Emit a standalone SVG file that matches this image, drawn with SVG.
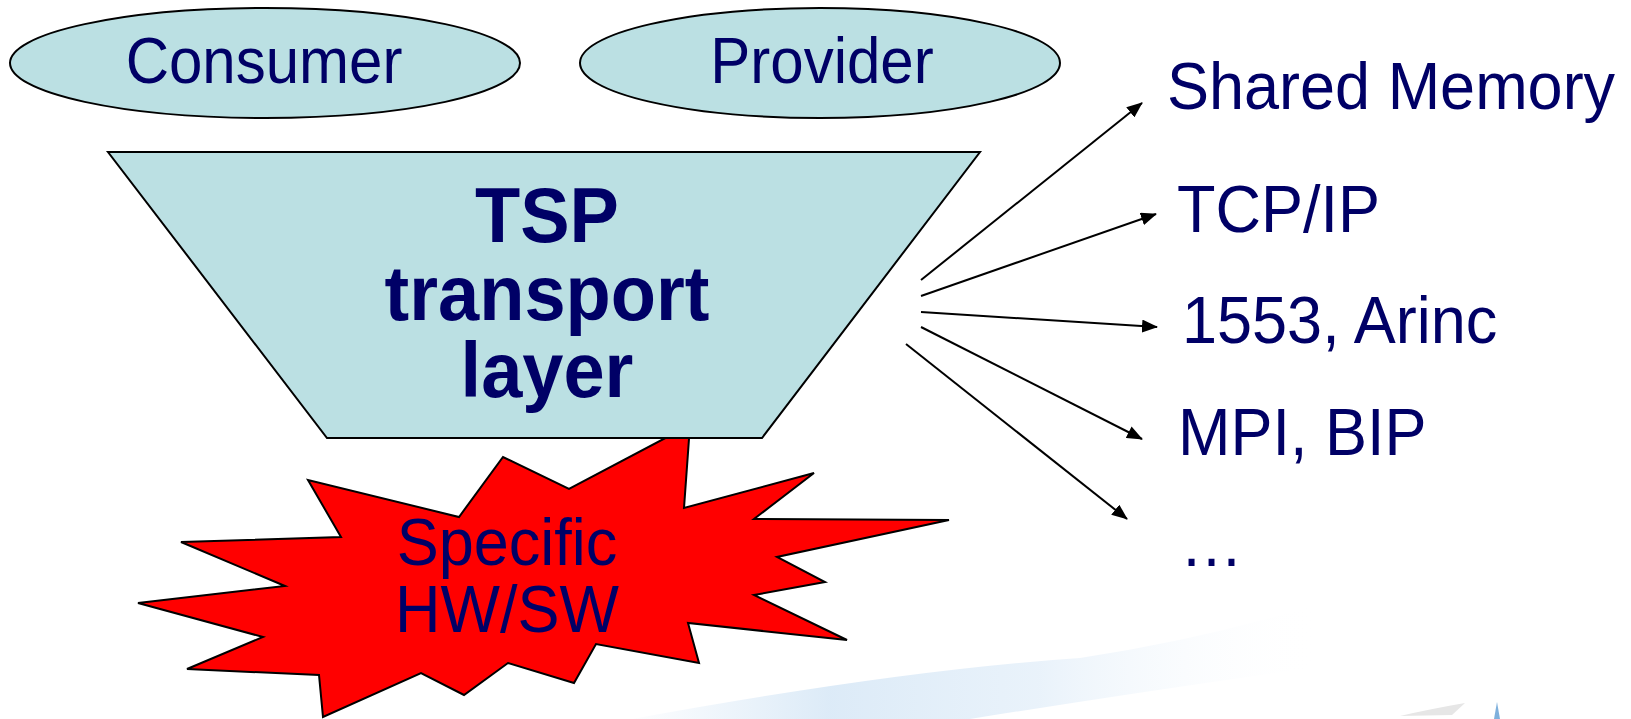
<svg xmlns="http://www.w3.org/2000/svg" width="1631" height="719" viewBox="0 0 1631 719">
  <style>
    .shape { fill: #bbe0e3; stroke: #000; stroke-width: 2; }
    .lbl { font-family: "Liberation Sans", Arial, sans-serif; fill: #000066; }
    .big { font-size: 63px; }
    .mid { text-anchor: middle; }
    .oval { font-size: 60px; text-anchor: middle; }
    .title { font-size: 74px; font-weight: bold; text-anchor: middle; }
    .conn { stroke: #000; stroke-width: 2; fill: none; marker-end: url(#arrow); }
  </style>
  <defs>
    <marker id="arrow" viewBox="0 0 16 13" refX="15" refY="6.5" markerWidth="16" markerHeight="13" markerUnits="userSpaceOnUse" orient="auto">
      <path d="M0,0 L16,6.5 L0,13 z" fill="#000"/>
    </marker>
    <linearGradient id="swooshFill" gradientUnits="userSpaceOnUse" x1="620" y1="0" x2="1320" y2="0">
      <stop offset="0" stop-color="#d6e7f6" stop-opacity="0"/>
      <stop offset="0.3" stop-color="#d6e7f6" stop-opacity="0.85"/>
      <stop offset="0.6" stop-color="#e2eef9" stop-opacity="0.75"/>
      <stop offset="1" stop-color="#ffffff" stop-opacity="0"/>
    </linearGradient>
  </defs>

  <rect width="1631" height="719" fill="#fff"/>

  <!-- background swoosh along the bottom edge -->
  <g id="backdrop">
    <path d="M632,719 Q900,670 1080,658 Q1200,640 1312,606 L1318,667 Q1150,690 970,719 Z" fill="url(#swooshFill)"/>
    <path d="M1400,716 Q1430,709 1465,703 L1452,715 Z" fill="#e6e6e6"/>
    <path d="M1494,719 L1497,702 L1500,719 Z" fill="#7fb0dc"/>
  </g>

  <!-- red burst under the transport layer -->
  <g id="hwsw">
    <polygon points="690,425 684,508 814,473 754,519 949,520 777,557 825,582 754,595 847,640 688,623 699,663 596,644 574,683 508,663 464,695 421,673 323,717 319,675 187,669 263,637 138,603 285,586 181,542 341,537 308,480 459,517 503,457 569,489" fill="#ff0000" stroke="#000" stroke-width="2"/>
    <text class="lbl big mid" transform="translate(507 565) scale(1 1.07)"><tspan x="0" y="0">Specific</tspan><tspan x="0" y="62.6">HW/SW</tspan></text>
  </g>

  <g id="consumer">
    <ellipse class="shape" cx="265" cy="63" rx="255" ry="55"/>
    <text class="lbl oval" transform="translate(264 83) scale(1 1.07)">Consumer</text>
  </g>

  <g id="provider">
    <ellipse class="shape" cx="820" cy="63" rx="240" ry="55"/>
    <text class="lbl oval" transform="translate(822 83) scale(1 1.07)">Provider</text>
  </g>

  <g id="tsp">
    <polygon class="shape" points="108,152 980,152 762,438 327,438"/>
    <text class="lbl title" transform="translate(547 242) scale(1 1.06)"><tspan x="0" y="0">TSP</tspan><tspan x="0" y="73.6">transport</tspan><tspan x="0" y="146.2">layer</tspan></text>
  </g>

  <g id="connectors">
    <line class="conn" x1="921" y1="280" x2="1142" y2="103"/>
    <line class="conn" x1="921" y1="296" x2="1156" y2="214"/>
    <line class="conn" x1="921" y1="312" x2="1157" y2="327"/>
    <line class="conn" x1="921" y1="327" x2="1142" y2="439"/>
    <line class="conn" x1="906" y1="344" x2="1127" y2="519"/>
  </g>

  <g id="shared-memory"><text class="lbl big" transform="translate(1167 109) scale(1 1.07)">Shared Memory</text></g>
  <g id="tcp-ip"><text class="lbl big" transform="translate(1177 232) scale(1 1.07)">TCP/IP</text></g>
  <g id="bus-1553"><text class="lbl big" transform="translate(1182 343) scale(1 1.07)">1553, Arinc</text></g>
  <g id="mpi-bip"><text class="lbl big" transform="translate(1178 455) scale(1 1.07)">MPI, BIP</text></g>
  <g id="others"><text class="lbl big" transform="translate(1180 566) scale(1 1.07)">…</text></g>
</svg>
